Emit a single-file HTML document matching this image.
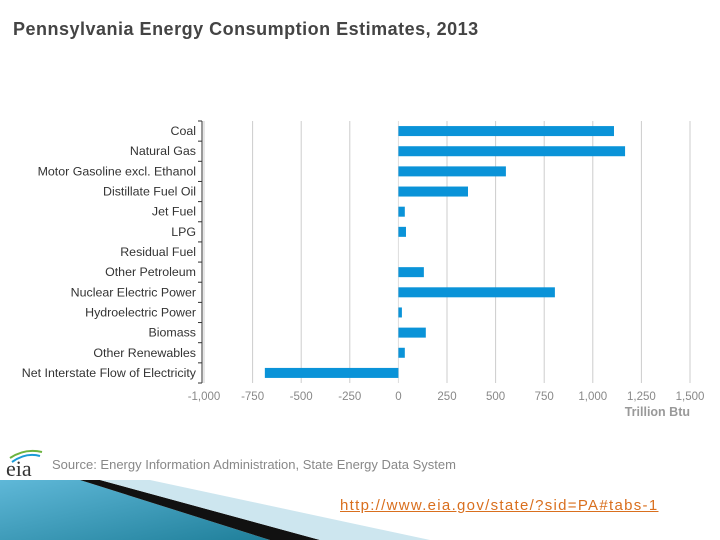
<!DOCTYPE html>
<html><head><meta charset="utf-8"><style>
body{margin:0;width:720px;height:540px;overflow:hidden;background:#fff;font-family:"Liberation Sans",sans-serif;position:relative}
.t{position:absolute;white-space:nowrap}
</style></head><body>
<div class="t" style="left:13px;top:19px;font-size:18px;font-weight:bold;color:#444;letter-spacing:0.5px">Pennsylvania Energy Consumption Estimates, 2013</div>
<svg id="chart" width="720" height="440" style="position:absolute;left:0;top:0"></svg>
<svg width="720" height="540" style="position:absolute;left:0;top:0">
<defs><linearGradient id="g" x1="0" y1="0" x2="1" y2="1"><stop offset="0" stop-color="#5fb8d8"/><stop offset="1" stop-color="#1f7f9a"/></linearGradient></defs>
<polygon points="0,480 80,480 270,540 0,540" fill="url(#g)"/>
<polygon points="80,480 100,480 320,540 270,540" fill="#111"/>
<polygon points="100,480 150,480 430,540 320,540" fill="#cde6ef"/>
<text x="6" y="476" font-family="Liberation Serif,serif" font-size="22" fill="#333">eia</text>
<path d="M10 458 Q25 448 42 452" stroke="#6cb33f" stroke-width="2" fill="none"/>
<path d="M12 462 Q26 452 40 456" stroke="#1a9ad6" stroke-width="2" fill="none"/>
</svg>
<div class="t" style="left:52px;top:457px;font-size:13px;color:#888">Source: Energy Information Administration, State Energy Data System</div>
<div class="t" style="left:340px;top:497px;font-size:15px;letter-spacing:1.3px;color:#d96f1e;text-decoration:underline;font-family:'Liberation Sans','Noto Sans CJK JP',sans-serif">http://www.eia.gov/state/?sid=PA#tabs-1</div>
<script>
const categories=["Coal","Natural Gas","Motor Gasoline excl. Ethanol","Distillate Fuel Oil","Jet Fuel","LPG","Residual Fuel","Other Petroleum","Nuclear Electric Power","Hydroelectric Power","Biomass","Other Renewables","Net Interstate Flow of Electricity"];
const values=[1109,1166,553,358,33,39,0,131,805,18,141,33,-687];
const ticks=[-1000,-750,-500,-250,0,250,500,750,1000,1250,1500];
const tickLabels=["-1,000","-750","-500","-250","0","250","500","750","1,000","1,250","1,500"];
const svg=document.getElementById('chart');const NS='http://www.w3.org/2000/svg';
const x0=204,x1=690,vmin=-1000,vmax=1500,plotTop=121,plotBottom=383;
const x=v=>x0+(v-vmin)/(vmax-vmin)*(x1-x0);
const band=(plotBottom-plotTop)/categories.length;
const y=i=>plotTop+i*band;
function mk(t,a){const e=document.createElementNS(NS,t);for(const k in a)e.setAttribute(k,a[k]);svg.appendChild(e);return e;}
ticks.forEach((v,i)=>{
 const g=mk('line',{x1:x(v),x2:x(v),y1:plotTop,y2:plotBottom,stroke:v===0?'#ddd':'#ccc','stroke-width':1});
 
 
 const t=mk('text',{x:x(v),y:400,'text-anchor':'middle','font-size':11.5,fill:'#888'});
 t.textContent=tickLabels[i];
 
 
});
const ax=mk('line',{x1:202,x2:202,y1:plotTop,y2:plotBottom,stroke:'#333','stroke-width':1});


for(let i=0;i<=categories.length;i++){const tk=mk('line',{x1:198,x2:202,y1:y(i),y2:y(i),stroke:'#333'});
 
 }
categories.forEach((c,i)=>{
 const t=mk('text',{x:196,y:y(i)+band/2+4,'text-anchor':'end','font-size':12.4,fill:'#333'});
 t.textContent=c;
 
 
 const v=values[i];
 const r=mk('rect',{x:Math.min(x(0),x(v)),y:y(i)+band/2-5,width:Math.abs(x(v)-x(0)),height:10,fill:'#0a93d8'});
 
 
});
const u=mk('text',{x:690,y:416,'text-anchor':'end','font-size':12.5,'font-weight':'bold',fill:'#999'});
u.textContent='Trillion Btu';


</script>
</body></html>
